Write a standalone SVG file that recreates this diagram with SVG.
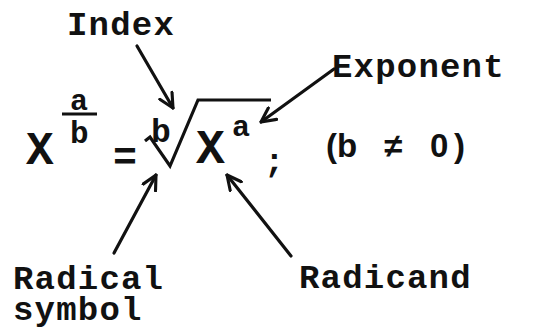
<svg xmlns="http://www.w3.org/2000/svg" width="534" height="334" viewBox="0 0 534 334">
<style>
.lbl{font-family:"Liberation Mono","Courier New",monospace;font-weight:bold;font-size:34px;letter-spacing:1.2px;fill:#111}
.mono{font-family:"Liberation Mono","Courier New",monospace;font-weight:bold;fill:#111}
.sans{font-family:"Liberation Sans",Arial,sans-serif;font-weight:bold;fill:#111}
.conn{stroke:#111;stroke-width:3.2;fill:none;stroke-linecap:round}
</style>
<defs>
<marker id="ah" viewBox="0 0 12 12" refX="11" refY="6" markerWidth="17" markerHeight="17" markerUnits="userSpaceOnUse" orient="auto">
<path d="M1,1 L11,6 L1,11" fill="none" stroke="#111" stroke-width="2.2" stroke-linecap="round" stroke-linejoin="round"/>
</marker>
</defs>
<rect width="534" height="334" fill="#fff"/>
<g id="formula">
<text class="mono" x="26" y="164" font-size="46">X</text>
<text class="mono" x="70" y="110" font-size="30">a</text>
<line x1="62" y1="114" x2="97" y2="114" stroke="#111" stroke-width="3"/>
<text class="mono" x="70" y="143" font-size="31">b</text>
<text class="mono" x="113" y="170" font-size="40">=</text>
<text class="mono" x="151" y="142" font-size="33">b</text>
<path d="M145,141 L150,137 L170,166 L198,100 L271,100" fill="none" stroke="#111" stroke-width="3.2" stroke-linejoin="miter"/>
<text class="mono" x="196" y="163" font-size="48">X</text>
<text class="mono" x="232" y="136" font-size="30">a</text>
<text class="mono" x="264" y="172" font-size="34">;</text>
<text class="sans" x="326 337 365 384 415 430 454" y="157" font-size="33">(b ≠ 0)</text>
</g>
<g id="index"><text class="lbl" x="67" y="35">Index</text></g>
<g id="exponent"><text class="lbl" x="332" y="77">Exponent</text></g>
<g id="radical-symbol"><text class="lbl" x="13" y="289">Radical</text><text class="lbl" x="13" y="320">symbol</text></g>
<g id="radicand"><text class="lbl" x="299" y="288">Radicand</text></g>
<g id="connectors">
<line class="conn" x1="137" y1="46" x2="173" y2="108" marker-end="url(#ah)"/>
<line class="conn" x1="334" y1="69" x2="261" y2="122" marker-end="url(#ah)"/>
<line class="conn" x1="114" y1="253" x2="156" y2="175" marker-end="url(#ah)"/>
<line class="conn" x1="291" y1="256" x2="227" y2="175" marker-end="url(#ah)"/>
</g>
</svg>
